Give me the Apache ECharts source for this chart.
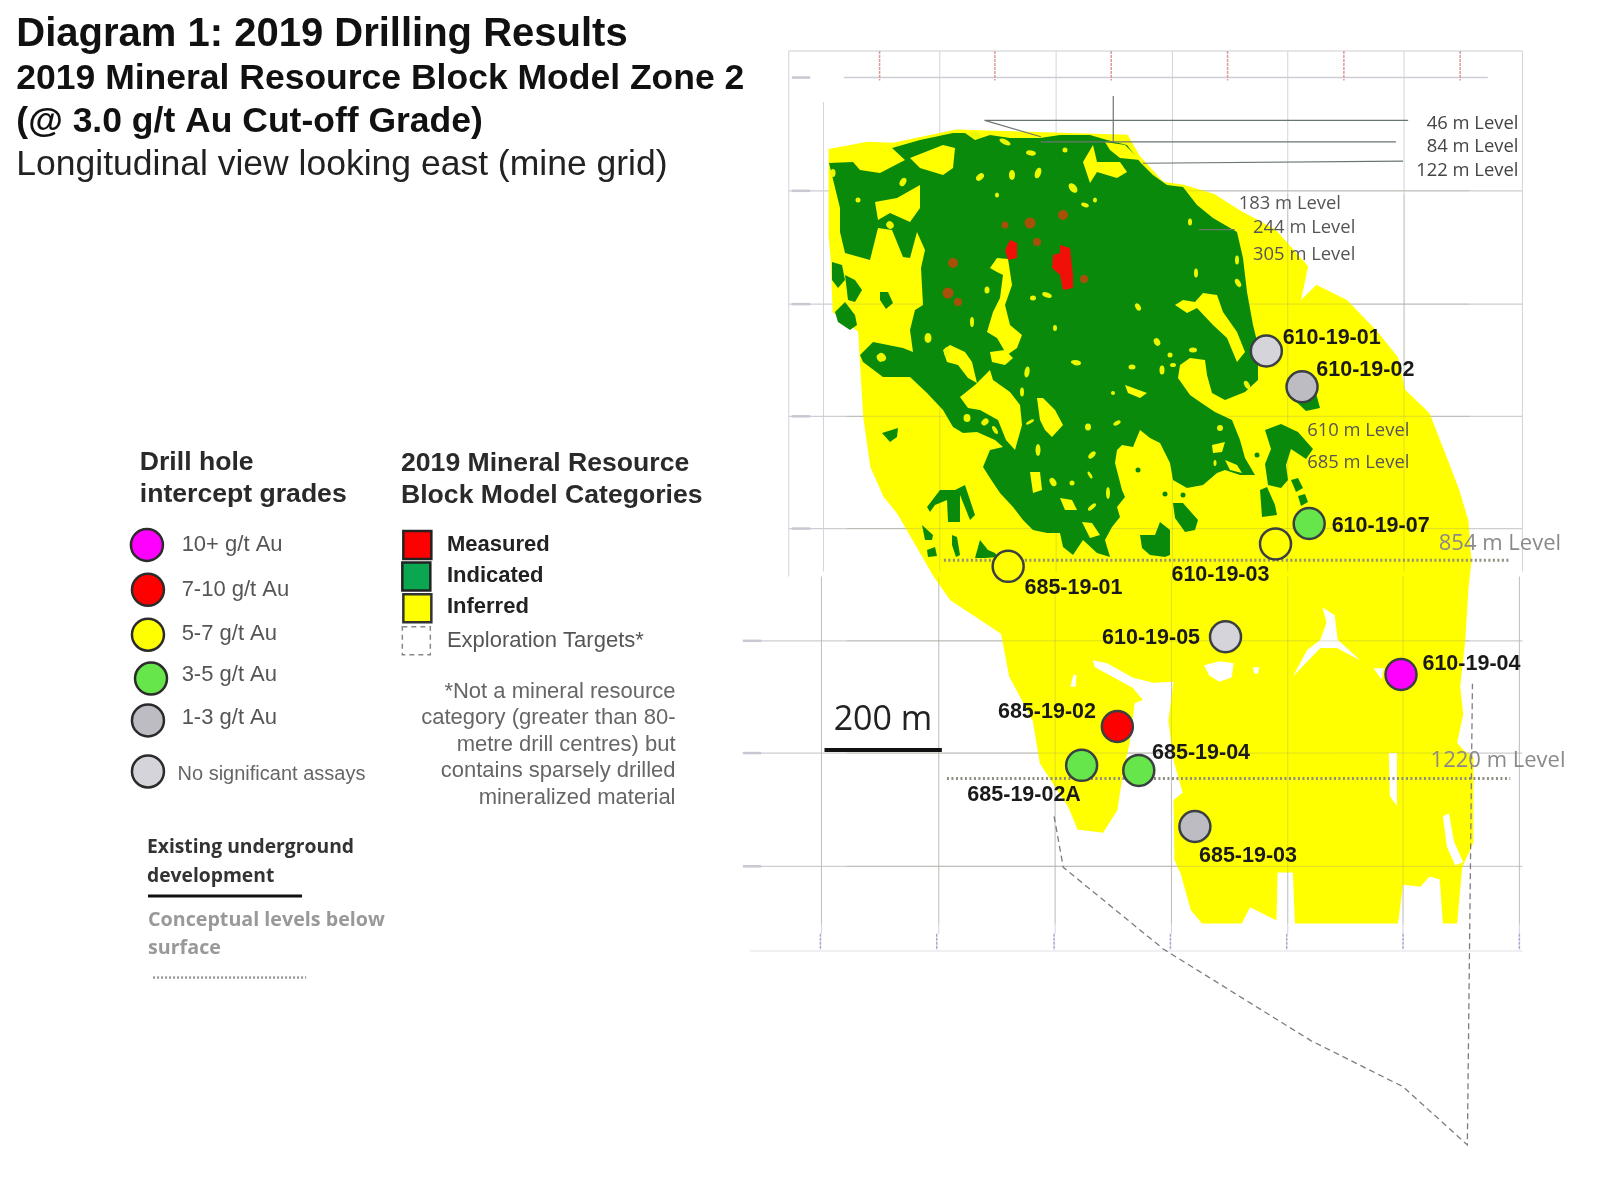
<![CDATA[<!DOCTYPE html>
<html>
<head>
<meta charset="utf-8">
<title>Diagram 1: 2019 Drilling Results</title>
<script src="https://cdn.jsdelivr.net/npm/echarts@6/dist/echarts.min.js"></script>
<style>
  html, body { margin: 0; background: #fff; }
  #main { width: 1600px; height: 1200px; filter: blur(0.6px); }
</style>
</head>
<body>
<div id="main"></div>
<script>
// outer block model outline, in section coordinates (axis 0-1568 / 0-1176)
var inferredOutline = [[812,146],[850,139],[875,140],[937,127],[1105,132],[1117,153],[1140,178],[1160,181],[1190,190],[1215,206],[1250,225],[1282,261],[1275,294],[1290,279],[1320,294],[1350,325],[1370,350],[1377,382],[1401,405],[1415,441],[1430,480],[1439,510],[1442,550],[1439,578],[1436,627],[1431,673],[1434,700],[1428,728],[1434,735],[1444,742],[1444,826],[1433,850],[1428,905],[1414,905],[1411,862],[1401,859],[1392,869],[1375,867],[1370,905],[1269,905],[1267,855],[1252,855],[1251,902],[1225,889],[1217,905],[1178,905],[1167,892],[1157,856],[1151,843],[1150,784],[1159,777],[1150,745],[1145,706],[1150,668],[1130,669],[1110,664],[1085,650],[1071,647],[1073,654],[1110,674],[1120,686],[1112,689],[1107,728],[1100,761],[1095,794],[1081,816],[1056,813],[1047,791],[1019,748],[1012,706],[989,663],[981,621],[931,588],[915,565],[879,503],[866,487],[853,458],[846,409],[843,360],[841,325],[816,306],[814,253],[812,230]];
var whiteCutouts = [
  [[1180,652],[1195,648],[1209,650],[1207,664],[1195,668],[1185,662]],
  [[1296,595],[1308,603],[1311,627],[1333,647],[1310,635],[1294,635],[1267,663],[1281,637],[1294,627],[1300,610]],
  [[1346,655],[1356,655],[1354,666]],
  [[1361,738],[1369,738],[1369,790],[1362,780]],
  [[1414,800],[1420,797],[1425,825],[1434,845],[1426,848],[1418,830]],
  [[1049,673],[1052,661],[1055,662],[1054,673]],
  [[1228,654],[1234,654],[1233,660],[1229,660]]
];

// the rest of the block model was traced in picture pixels (0-1600 / 0-1200)
var indicatedOutline = [[829,163],[853,162],[860,170],[880,173],[905,160],[892,148],[920,140],[953,133],[965,133],[975,140],[990,135],[1010,138],[1040,138],[1060,135],[1090,135],[1107,140],[1127,145],[1140,162],[1153,175],[1167,185],[1183,187],[1197,205],[1213,218],[1237,232],[1243,258],[1247,292],[1253,325],[1258,345],[1258,380],[1245,392],[1225,400],[1212,393],[1207,375],[1205,360],[1190,358],[1180,365],[1178,378],[1190,395],[1200,402],[1215,412],[1232,420],[1240,440],[1245,458],[1255,475],[1240,475],[1225,470],[1217,473],[1203,485],[1187,488],[1173,480],[1170,463],[1160,443],[1150,438],[1140,430],[1133,447],[1122,445],[1117,450],[1115,463],[1122,490],[1125,497],[1117,507],[1120,517],[1112,527],[1105,540],[1110,557],[1097,553],[1083,540],[1073,555],[1063,547],[1060,533],[1047,533],[1033,530],[1023,520],[1013,507],[1000,493],[990,478],[983,467],[990,450],[1003,447],[995,440],[977,432],[963,433],[953,427],[943,410],[927,393],[910,377],[883,377],[863,362],[860,355],[873,342],[903,348],[913,352],[910,330],[915,310],[923,305],[921,268],[925,250],[917,232],[910,258],[903,257],[892,230],[878,228],[870,260],[845,253],[840,232],[840,208]];
var inferredIslands = [
  [[910,158],[943,145],[955,148],[953,168],[943,175],[920,168]],
  [[875,202],[897,198],[920,185],[920,208],[910,222],[890,213],[878,220]],
  [[990,268],[997,258],[1008,259],[1012,285],[1005,305],[1010,325],[1022,335],[1017,348],[1007,355],[997,338],[987,332],[993,312],[1000,298],[1003,275],[997,272]],
  [[943,350],[950,345],[965,352],[972,362],[977,383],[968,378],[958,365],[947,362]],
  [[990,352],[1005,350],[1013,358],[1005,365],[992,362]],
  [[1175,305],[1183,300],[1195,302],[1203,293],[1217,295],[1223,312],[1237,332],[1245,352],[1237,362],[1227,338],[1213,325],[1197,308],[1187,313]],
  [[1083,162],[1093,145],[1097,162],[1120,162],[1127,172],[1117,178],[1097,172],[1090,183]],
  [[1105,142],[1125,145],[1140,160],[1120,158],[1110,150]],
  [[960,397],[975,385],[990,370],[993,380],[1010,392],[1020,405],[1022,425],[1015,450],[1006,440],[998,420],[980,410],[968,408]],
  [[1037,398],[1043,398],[1055,410],[1063,425],[1052,437],[1045,430],[1040,420]],
  [[1030,472],[1040,472],[1042,490],[1033,493]],
  [[1125,385],[1147,393],[1140,398],[1128,393]],
  [[1212,445],[1225,442],[1222,452],[1213,453]],
  [[1225,460],[1237,465],[1242,473],[1230,470]],
  [[1060,498],[1072,500],[1077,510],[1065,510]],
  [[1082,522],[1092,523],[1100,535],[1090,538]]
];
var indicatedIslands = [
  [[832,262],[842,265],[845,280],[838,288],[832,280]],
  [[845,275],[855,280],[862,290],[855,302],[848,300]],
  [[835,312],[845,302],[855,315],[857,325],[850,330],[838,322]],
  [[880,292],[888,292],[893,303],[886,309],[880,300]],
  [[882,433],[898,428],[897,437],[890,442]],
  [[927,507],[940,490],[955,490],[965,485],[975,515],[970,520],[960,495],[960,522],[948,522],[947,500],[935,505],[930,512]],
  [[922,525],[933,535],[932,540],[925,540]],
  [[927,550],[935,547],[937,556],[928,557]],
  [[952,535],[957,537],[960,555],[956,557],[952,545]],
  [[975,558],[980,540],[988,550],[995,553],[998,557],[985,558]],
  [[1173,503],[1183,503],[1198,520],[1195,530],[1185,532],[1175,518]],
  [[1140,535],[1155,535],[1160,522],[1170,530],[1170,555],[1165,557],[1150,555],[1142,548]],
  [[1260,490],[1267,487],[1275,505],[1277,515],[1262,517]],
  [[1265,430],[1281,424],[1298,432],[1313,449],[1306,459],[1291,449],[1286,465],[1288,480],[1281,488],[1268,485],[1265,464],[1271,449]],
  [[1291,480],[1298,478],[1303,488],[1296,492]],
  [[1298,496],[1305,494],[1308,502],[1301,506]],
  [[1290,396],[1316,393],[1320,408],[1306,411]]
];
var measuredPatches = [
  [[1005,250],[1010,240],[1017,243],[1017,258],[1008,260]],
  [[1060,245],[1070,248],[1073,275],[1073,288],[1063,290],[1060,275],[1052,268],[1053,255],[1060,253]]
];
// x, y, width, height, rotation
var inferredSpecks = [[980,177,9,6,40],[1012,175,6,10,0],[1038,173,6,11,-20],[1031,153,10,5,-10],[1005,142,12,5,-25],[975,135,12,6,-15],[903,182,6,9,-30],[858,200,5,5,0],[833,173,5,8,0],[997,195,4,5,0],[890,225,7,8,40],[987,290,5,7,0],[1047,295,10,5,-20],[1033,298,6,5,0],[972,322,4,10,0],[928,338,7,10,0],[1055,328,4,6,0],[947,352,6,10,0],[882,357,7,9,40],[1073,188,7,11,40],[1085,205,8,4,-20],[1095,200,4,5,0],[1190,222,4,7,0],[1196,273,4,9,0],[1237,260,4,9,0],[1238,283,5,9,30],[1138,307,5,8,30],[1157,342,6,8,30],[1170,355,5,5,0],[1075,362,8,4,0],[1193,350,8,5,0],[1065,150,5,5,0],[1077,363,8,5,0],[1132,367,7,5,0],[1162,370,5,9,0],[1173,365,6,4,0],[1113,393,4,4,0],[1088,427,6,7,0],[1117,423,8,4,30],[1092,455,9,5,45],[1053,482,6,9,30],[1072,483,5,5,0],[1090,475,3,8,30],[1108,493,4,12,0],[1092,507,10,4,40],[1220,428,6,6,0],[1247,385,5,9,30],[1215,463,3,6,0],[1022,392,4,9,0],[1027,372,5,11,-10],[967,418,7,8,0],[985,422,8,6,40],[995,430,4,9,30],[1038,450,5,12,0],[880,358,6,8,30],[1030,422,9,3,30]];
var indicatedSpecks = [[1183,495],[1165,494],[1138,470],[1257,455]];
var faintMeasured = [[1005,225,7],[1030,223,11],[1037,242,8],[953,263,10],[948,293,11],[958,302,8],[1063,215,10],[1084,279,8]];

// mine grid
var upperGridX = [921,1035,1149,1262,1376,1492];
var lowerGridX = [805,920,1034,1148,1262,1375,1489];
var gridY = [187,298,408,518];
var lowerGridY = [628,738,849];
var redTickX = [862,975,1089,1203,1317,1431];
var blueTickX = [804,918,1033,1147,1261,1375,1489];
var axisStubY = [76,187,298,408,518,628,738,849];

var developmentLines = [
  [[965,118],[1380,118]],
  [[965,118],[1020,134]],
  [[1020,139],[1368,139]],
  [[1120,160],[1375,158]],
  [[1091,94],[1091,140]],
  [[1175,225],[1210,225]]
];
var conceptualLevels = [
  [[925,549],[1480,549]],
  [[928,763],[1480,763]]
];
var explorationTarget = [[1033,800],[1042,850],[1140,930],[1285,1020],[1375,1065],[1438,1122],[1443,670]];

// drill holes
var holeNames = ['610-19-01','610-19-02','610-19-07','610-19-03','685-19-01','610-19-05','610-19-04','685-19-02','685-19-02A','685-19-04','685-19-03'];
var holeX = [1241,1276,1283,1250,988,1201,1373,1095,1060,1116,1171];
var holeY = [344,379,513,533,555,624,661,712,750,755,810];
var holeGrade = [5,4,3,2,2,5,0,1,3,3,4];
var holeLabels = [[1257,330],[1290,362],[1305,515],[1148,563],[1004,575],[1080,624],[1394,650],[978,697],[948,778],[1129,737],[1175,838]];

var gradeNames = ['10+ g/t Au','7-10 g/t Au','5-7 g/t Au','3-5 g/t Au','1-3 g/t Au','No significant assays'];
var gradeColors = ['#ff00ff','#ff0000','#ffff00','#66e64a','#bcbcc2','#d4d4da'];
var gradeLegendAt = [[144,534],[145,578],[145,622],[148,665],[145,706],[145,756]];
var gradeTextAt = [[178,533],[178,577],[178,620],[178,660],[178,703],[174,758]];

var categoryNames = ['Measured','Indicated','Inferred','Exploration Targets*'];
var categoryColors = ['#ff0000','#0aa650','#ffff00','#ffffff'];
var categoryBoxAt = [[409,534],[408,565],[409,596],[408,628]];
var categoryTextAt = [[438,533],[438,563],[438,594],[438,627]];

var levelsRight = [['46 m Level',1488,120],['84 m Level',1488,143],['122 m Level',1488,166]];
var levelsLeft = [['183 m Level',1214,199],['244 m Level',1228,222],['305 m Level',1228,249],['610 m Level',1281,421],['685 m Level',1281,453]];
var levelsGrey = [['854 m Level',1410,532],['1220 m Level',1402,745]];
var footnote = ['*Not a mineral resource','category (greater than 80-','metre drill centres) but','contains sparsely drilled','mineralized material'];
var footnoteY = [677,703,729,755,781];

var ARIAL = '"Liberation Sans", Arial, sans-serif';
var OPEN = '"Open Sans", "Noto Sans", sans-serif';
var PICTURE = 1568 / 1600;

function polygons(list, color, z, k) {
  k = k || 1;
  return {
    type: 'custom', coordinateSystem: 'cartesian2d', silent: true, z: z, clip: false,
    data: list.map(function (p, i) { return [i]; }),
    encode: { x: 0 },
    renderItem: function (params, api) {
      var pts = list[params.dataIndex].map(function (p) { return api.coord([p[0] * k, p[1] * k]); });
      return { type: 'polygon', shape: { points: pts }, style: { fill: color } };
    }
  };
}

function polylines(list, style, z) {
  return {
    type: 'custom', coordinateSystem: 'cartesian2d', silent: true, z: z, clip: false,
    data: list.map(function (p, i) { return [i]; }),
    encode: { x: 0 },
    renderItem: function (params, api) {
      var pts = list[params.dataIndex].map(function (p) { return api.coord(p); });
      return { type: 'polyline', shape: { points: pts }, style: Object.assign({ fill: null }, style) };
    }
  };
}

// rows are [text, x, y]
function texts(rows, font, fill, align) {
  return {
    type: 'custom', coordinateSystem: 'cartesian2d', silent: true, z: 20, clip: false,
    data: rows.map(function (r, i) { return [i]; }),
    encode: { x: 0 },
    renderItem: function (params, api) {
      var r = rows[params.dataIndex];
      var c = api.coord([r[1], r[2]]);
      return { type: 'text', style: { x: c[0], y: c[1] + 1, text: r[0], font: font, fill: fill, align: align || 'left', verticalAlign: 'middle' } };
    }
  };
}

function vert(xs, y0, y1) { return xs.map(function (x) { return [[x, y0], [x, y1]]; }); }
function horiz(ys, x0, x1) { return ys.map(function (y) { return [[x0, y], [x1, y]]; }); }
function zip(labels, at) { return labels.map(function (t, i) { return [t, at[i][0], at[i][1]]; }); }

var series = [
  polylines(vert(upperGridX, 50, 560).concat(vert([807], 100, 560), vert([773], 50, 565), vert(lowerGridX, 565, 915)), { stroke: '#d2d3e0', lineWidth: 1 }, 1),
  polylines(horiz([50], 773, 1492).concat(horiz(gridY, 773, 1492), horiz(lowerGridY, 730, 1492)), { stroke: '#cdcdd3', lineWidth: 1.2 }, 1),
  polylines(horiz([76], 827, 1458), { stroke: '#cdcdd6', lineWidth: 1.5 }, 1),
  polylines(horiz([932], 735, 1492), { stroke: '#e2e2e8', lineWidth: 1 }, 1),
  polylines(vert(redTickX, 50, 79), { stroke: '#dc9a9a', lineWidth: 1.5, lineDash: [3, 1] }, 2),
  polylines(vert(blueTickX, 915, 931), { stroke: '#a4a8cf', lineWidth: 1.5, lineDash: [3, 1] }, 2),
  polylines(axisStubY.map(function (y, i) { var x = i < 5 ? 776 : 728; return [[x, y], [x + 18, y]]; }), { stroke: '#c8c8d2', lineWidth: 2.5 }, 2),
  polygons([inferredOutline], '#ffff00', 3),
  polygons(whiteCutouts, '#ffffff', 4),
  polylines(vert(lowerGridX, 565, 905).concat(vert(upperGridX.slice(0, 5), 190, 560), horiz(gridY.concat(lowerGridY), 830, 1440)), { stroke: 'rgba(150,150,110,0.3)', lineWidth: 1 }, 4),
  polygons([indicatedOutline], '#0a8a0a', 5, PICTURE),
  polygons(inferredIslands, '#ffff00', 6, PICTURE),
  polygons(indicatedIslands, '#0a8a0a', 6, PICTURE),
  {
    type: 'scatter', silent: true, z: 6, symbol: 'circle',
    symbolSize: function (v) { return [v[2], v[3]]; },
    symbolRotate: function (v) { return v[4]; },
    itemStyle: { color: '#ecf800', opacity: 1 },
    data: inferredSpecks.map(function (p) { return [p[0] * PICTURE, p[1] * PICTURE, p[2], p[3], p[4]]; })
  },
  {
    type: 'scatter', silent: true, z: 6, symbol: 'circle', symbolSize: 5,
    itemStyle: { color: '#0a8a0a', opacity: 1 },
    data: indicatedSpecks.map(function (p) { return [p[0] * PICTURE, p[1] * PICTURE]; })
  },
  polygons(measuredPatches, '#f01008', 7, PICTURE),
  {
    type: 'scatter', silent: true, z: 7, symbol: 'circle',
    symbolSize: function (v) { return v[2]; },
    itemStyle: { color: '#a8500a', opacity: 1 },
    data: faintMeasured.map(function (p) { return [p[0] * PICTURE, p[1] * PICTURE, p[2]]; })
  },
  polylines(developmentLines, { stroke: '#6b7570', lineWidth: 1.2 }, 8),
  polylines(conceptualLevels, { stroke: '#8f8f80', lineWidth: 3, lineDash: [2, 2.5] }, 9),
  polylines([explorationTarget], { stroke: '#7c7c84', lineWidth: 1.3, lineDash: [6, 4] }, 9),
  polylines(horiz([735], 808, 923), { stroke: '#111', lineWidth: 4 }, 9),
  {
    type: 'scatter', silent: true, z: 10, symbol: 'circle', symbolSize: 31,
    itemStyle: { borderColor: '#3a3f42', borderWidth: 2.5, opacity: 1 },
    data: holeNames.map(function (n, i) {
      return { value: [holeX[i], holeY[i]], itemStyle: { color: gradeColors[holeGrade[i]], opacity: 1 } };
    })
  },
  {
    type: 'scatter', silent: true, z: 10, symbol: 'circle', symbolSize: 32,
    itemStyle: { borderColor: '#2b2b2b', borderWidth: 2.5, opacity: 1 },
    data: gradeLegendAt.map(function (p, i) {
      return { value: p, itemStyle: { color: gradeColors[i], opacity: 1 } };
    })
  },
  {
    type: 'scatter', silent: true, z: 10, symbol: 'rect', symbolSize: 28,
    data: categoryBoxAt.map(function (p, i) {
      return {
        value: p,
        itemStyle: i < 3
          ? { color: categoryColors[i], borderColor: i == 2 ? '#333' : '#222', borderWidth: 2.5, opacity: 1 }
          : { color: categoryColors[i], borderColor: '#888', borderWidth: 1.5, borderType: [5, 4], opacity: 1 }
      };
    })
  },
  polylines(horiz([878], 145, 296), { stroke: '#111', lineWidth: 3 }, 10),
  polylines(horiz([958], 150, 300), { stroke: '#999', lineWidth: 2.5, lineDash: [2, 2] }, 10),

  texts([['Diagram 1: 2019 Drilling Results', 16, 33]], 'bold 40px ' + ARIAL, '#111'),
  texts([['2019 Mineral Resource Block Model Zone 2', 16, 77], ['(@ 3.0 g/t Au Cut-off Grade)', 16, 119]], 'bold 35.5px ' + ARIAL, '#111'),
  texts([['Longitudinal view looking east (mine grid)', 16, 161]], '35.5px ' + ARIAL, '#222'),
  texts(holeNames.map(function (n, i) { return [n, holeLabels[i][0], holeLabels[i][1]]; }), 'bold 21.5px ' + ARIAL, '#1a1a1a'),
  texts(levelsRight, '18.4px ' + OPEN, '#444', 'right'),
  texts(levelsLeft, '18.4px ' + OPEN, '#555'),
  texts(levelsGrey, '22px ' + OPEN, '#8a8a8a'),
  texts([['200 m', 817, 705]], '34px ' + OPEN, '#222'),
  texts([['Drill hole', 137, 452], ['intercept grades', 137, 484], ['2019 Mineral Resource', 393, 453], ['Block Model Categories', 393, 485]], 'bold 26.6px ' + ARIAL, '#2a2a2a'),
  texts(zip(gradeNames.slice(0, 5), gradeTextAt), '22px ' + ARIAL, '#555'),
  texts([[gradeNames[5], gradeTextAt[5][0], gradeTextAt[5][1]]], '20px ' + ARIAL, '#666'),
  texts(zip(categoryNames.slice(0, 3), categoryTextAt), 'bold 22px ' + ARIAL, '#222'),
  texts([[categoryNames[3], categoryTextAt[3][0], categoryTextAt[3][1]]], '22px ' + ARIAL, '#555'),
  texts(footnote.map(function (t, i) { return [t, 662, footnoteY[i]]; }), '22px ' + ARIAL, '#666', 'right'),
  texts([['Existing underground', 144, 830], ['development', 144, 858]], 'bold 19.3px ' + OPEN, '#333'),
  texts([['Conceptual levels below', 145, 901], ['surface', 145, 928]], 'bold 19.7px ' + OPEN, '#999')
];

var myChart = echarts.init(document.getElementById('main'));
myChart.setOption({
  animation: false,
  backgroundColor: '#ffffff',
  grid: { left: 0, right: 0, top: 0, bottom: 0 },
  xAxis: { type: 'value', min: 0, max: 1568, show: false },
  yAxis: { type: 'value', min: 0, max: 1176, inverse: true, show: false },
  series: series
});
</script>
</body>
</html>
]]>
